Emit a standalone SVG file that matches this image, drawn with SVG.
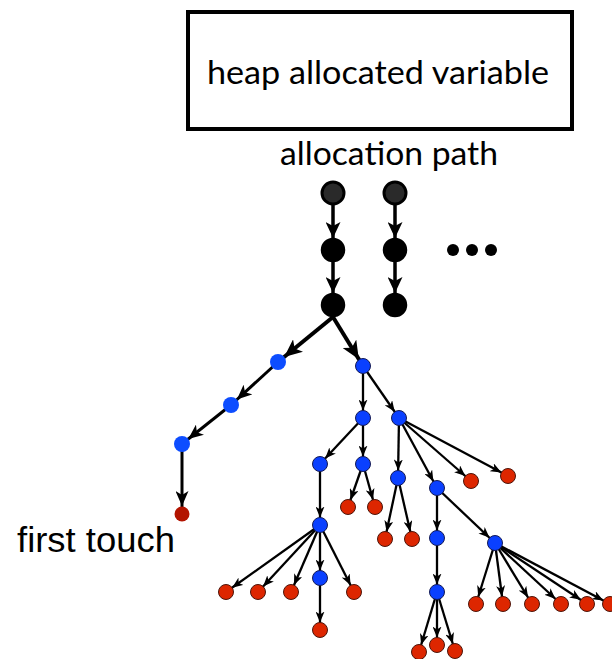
<svg xmlns="http://www.w3.org/2000/svg" width="612" height="659" viewBox="0 0 612 659">
  <style>
    .lbl { font-family: Lato, "Open Sans", sans-serif; fill: #000; }
    .lbl2 { font-family: "Liberation Sans", Arial, sans-serif; fill: #000; }
    .e-thick { stroke: #000; stroke-width: 3.5; fill: none; marker-end: url(#mk-thick); }
    .e-branch { stroke: #000; stroke-width: 4; fill: none; marker-end: url(#mk-branch); }
    .e-mid { stroke: #000; stroke-width: 3; fill: none; marker-end: url(#mk-mid); }
    .e-thin { stroke: #000; stroke-width: 2.3; fill: none; marker-end: url(#mk-thin); }
    .blk { fill: #000; stroke: #000; stroke-width: 2.5; }
    .blk0 { fill: #2a2a2a; stroke: #000; stroke-width: 3; }
    .blueA { fill: #0d4dff; }
    .redA { fill: #b31400; }
    .blue { fill: #0a40ff; stroke: #141a55; stroke-width: 1; }
    .red { fill: #dd2600; stroke: #4d150a; stroke-width: 1; }
  </style>
  <defs>
    <marker id="mk-thick" markerUnits="userSpaceOnUse" markerWidth="16" markerHeight="15" refX="28" refY="7.5" orient="auto">
      <path d="M0,0 L16,7.5 L0,15 L4,7.5 z" fill="#000"/>
    </marker>
    <marker id="mk-branch" markerUnits="userSpaceOnUse" markerWidth="18" markerHeight="16" refX="26" refY="8" orient="auto">
      <path d="M0,0 L18,8 L0,16 L4.5,8 z" fill="#000"/>
    </marker>
    <marker id="mk-mid" markerUnits="userSpaceOnUse" markerWidth="15" markerHeight="13" refX="23" refY="6.5" orient="auto">
      <path d="M0,0 L15,6.5 L0,13 L4,6.5 z" fill="#000"/>
    </marker>
    <marker id="mk-thin" markerUnits="userSpaceOnUse" markerWidth="11" markerHeight="9" refX="18.5" refY="4.5" orient="auto">
      <path d="M0,0 L11,4.5 L0,9 L3,4.5 z" fill="#000"/>
    </marker>
  </defs>

  <!-- title box -->
  <g id="variable">
    <rect x="188" y="12" width="384" height="117" fill="#fff" stroke="#000" stroke-width="4"/>
    <text class="lbl" x="378" y="84" font-size="32" text-anchor="middle" textLength="342" lengthAdjust="spacingAndGlyphs">heap allocated variable</text>
  </g>
  <text class="lbl" x="389" y="165" font-size="32" text-anchor="middle" textLength="218" lengthAdjust="spacingAndGlyphs">allocation path</text>
  <text class="lbl2" x="17" y="552" font-size="35" textLength="158" lengthAdjust="spacingAndGlyphs">first touch</text>

  <!-- connectors -->
  <g id="connectors">
    <line class="e-thick" x1="333" y1="193" x2="333" y2="250"/>
    <line class="e-thick" x1="333" y1="250" x2="333" y2="305"/>
    <line class="e-thick" x1="395" y1="193" x2="395" y2="250"/>
    <line class="e-thick" x1="395" y1="250" x2="395" y2="305"/>
    <line class="e-branch" x1="333" y1="317" x2="278" y2="362"/>
    <line class="e-branch" x1="333" y1="317" x2="363" y2="366"/>
    <line class="e-mid" x1="278" y1="362" x2="231" y2="405"/>
    <line class="e-mid" x1="231" y1="405" x2="182" y2="444"/>
    <line class="e-mid" x1="182" y1="444" x2="182" y2="514"/>

    <line class="e-thin" x1="363" y1="366" x2="363" y2="418"/>
    <line class="e-thin" x1="363" y1="366" x2="399" y2="418"/>
    <line class="e-thin" x1="363" y1="418" x2="320" y2="464"/>
    <line class="e-thin" x1="363" y1="418" x2="363" y2="464"/>
    <line class="e-thin" x1="399" y1="418" x2="398" y2="478"/>
    <line class="e-thin" x1="399" y1="418" x2="437" y2="488"/>
    <line class="e-thin" x1="399" y1="418" x2="471" y2="481"/>
    <line class="e-thin" x1="399" y1="418" x2="508" y2="476"/>
    <line class="e-thin" x1="363" y1="464" x2="348" y2="507"/>
    <line class="e-thin" x1="363" y1="464" x2="375" y2="507"/>
    <line class="e-thin" x1="320" y1="464" x2="320" y2="525"/>
    <line class="e-thin" x1="398" y1="478" x2="385" y2="539"/>
    <line class="e-thin" x1="398" y1="478" x2="412" y2="539"/>
    <line class="e-thin" x1="437" y1="488" x2="437" y2="538"/>
    <line class="e-thin" x1="437" y1="488" x2="495" y2="543"/>
    <line class="e-thin" x1="320" y1="525" x2="226" y2="592"/>
    <line class="e-thin" x1="320" y1="525" x2="258" y2="592"/>
    <line class="e-thin" x1="320" y1="525" x2="291" y2="592"/>
    <line class="e-thin" x1="320" y1="525" x2="320" y2="578"/>
    <line class="e-thin" x1="320" y1="525" x2="354" y2="592"/>
    <line class="e-thin" x1="320" y1="578" x2="320" y2="630"/>
    <line class="e-thin" x1="437" y1="538" x2="437" y2="592"/>
    <line class="e-thin" x1="437" y1="592" x2="419" y2="652"/>
    <line class="e-thin" x1="437" y1="592" x2="437" y2="645"/>
    <line class="e-thin" x1="437" y1="592" x2="455" y2="651"/>
    <line class="e-thin" x1="495" y1="543" x2="476" y2="604"/>
    <line class="e-thin" x1="495" y1="543" x2="503" y2="604"/>
    <line class="e-thin" x1="495" y1="543" x2="532" y2="604"/>
    <line class="e-thin" x1="495" y1="543" x2="561" y2="604"/>
    <line class="e-thin" x1="495" y1="543" x2="587" y2="604"/>
    <line class="e-thin" x1="495" y1="543" x2="610" y2="604"/>
  </g>

  <!-- allocation path nodes -->
  <g id="p1a"><circle class="blk0" cx="333" cy="193" r="11"/></g>
  <g id="p1b"><circle class="blk" cx="333" cy="250" r="11"/></g>
  <g id="p1c"><circle class="blk" cx="333" cy="305" r="11"/></g>
  <g id="p2a"><circle class="blk0" cx="395" cy="193" r="11"/></g>
  <g id="p2b"><circle class="blk" cx="395" cy="250" r="11"/></g>
  <g id="p2c"><circle class="blk" cx="395" cy="305" r="11"/></g>
  <g id="more">
    <circle cx="453" cy="250" r="6" fill="#000"/>
    <circle cx="472" cy="250" r="6" fill="#000"/>
    <circle cx="491" cy="250" r="6" fill="#000"/>
  </g>

  <!-- first-touch branch -->
  <g id="t1"><circle class="blueA" cx="278" cy="362" r="8"/></g>
  <g id="t2"><circle class="blueA" cx="231" cy="405" r="8"/></g>
  <g id="t3"><circle class="blueA" cx="182" cy="444" r="8"/></g>
  <g id="touch"><circle class="redA" cx="182" cy="514" r="7.5"/></g>

  <!-- call tree -->
  <g id="a"><circle class="blue" cx="363" cy="366" r="7.5"/></g>
  <g id="b"><circle class="blue" cx="363" cy="418" r="7.5"/></g>
  <g id="c"><circle class="blue" cx="399" cy="418" r="7.5"/></g>
  <g id="d"><circle class="blue" cx="320" cy="464" r="7.5"/></g>
  <g id="e"><circle class="blue" cx="363" cy="464" r="7.5"/></g>
  <g id="f"><circle class="blue" cx="398" cy="478" r="7.5"/></g>
  <g id="g"><circle class="blue" cx="437" cy="488" r="7.5"/></g>
  <g id="c-r1"><circle class="red" cx="471" cy="481" r="7.5"/></g>
  <g id="c-r2"><circle class="red" cx="508" cy="476" r="7.5"/></g>
  <g id="e-r1"><circle class="red" cx="348" cy="507" r="7.5"/></g>
  <g id="e-r2"><circle class="red" cx="375" cy="507" r="7.5"/></g>
  <g id="k"><circle class="blue" cx="320" cy="525" r="7.5"/></g>
  <g id="f-r1"><circle class="red" cx="385" cy="539" r="7.5"/></g>
  <g id="f-r2"><circle class="red" cx="412" cy="539" r="7.5"/></g>
  <g id="l"><circle class="blue" cx="437" cy="538" r="7.5"/></g>
  <g id="h"><circle class="blue" cx="495" cy="543" r="7.5"/></g>
  <g id="k-r1"><circle class="red" cx="226" cy="592" r="7.5"/></g>
  <g id="k-r2"><circle class="red" cx="258" cy="592" r="7.5"/></g>
  <g id="k-r3"><circle class="red" cx="291" cy="592" r="7.5"/></g>
  <g id="m"><circle class="blue" cx="320" cy="578" r="7.5"/></g>
  <g id="k-r5"><circle class="red" cx="354" cy="592" r="7.5"/></g>
  <g id="m-r1"><circle class="red" cx="320" cy="630" r="7.5"/></g>
  <g id="n"><circle class="blue" cx="437" cy="592" r="7.5"/></g>
  <g id="n-r1"><circle class="red" cx="419" cy="652" r="7.5"/></g>
  <g id="n-r2"><circle class="red" cx="437" cy="645" r="7.5"/></g>
  <g id="n-r3"><circle class="red" cx="455" cy="651" r="7.5"/></g>
  <g id="h-r1"><circle class="red" cx="476" cy="604" r="7.5"/></g>
  <g id="h-r2"><circle class="red" cx="503" cy="604" r="7.5"/></g>
  <g id="h-r3"><circle class="red" cx="532" cy="604" r="7.5"/></g>
  <g id="h-r4"><circle class="red" cx="561" cy="604" r="7.5"/></g>
  <g id="h-r5"><circle class="red" cx="587" cy="604" r="7.5"/></g>
  <g id="h-r6"><circle class="red" cx="610" cy="604" r="7.5"/></g>
</svg>
